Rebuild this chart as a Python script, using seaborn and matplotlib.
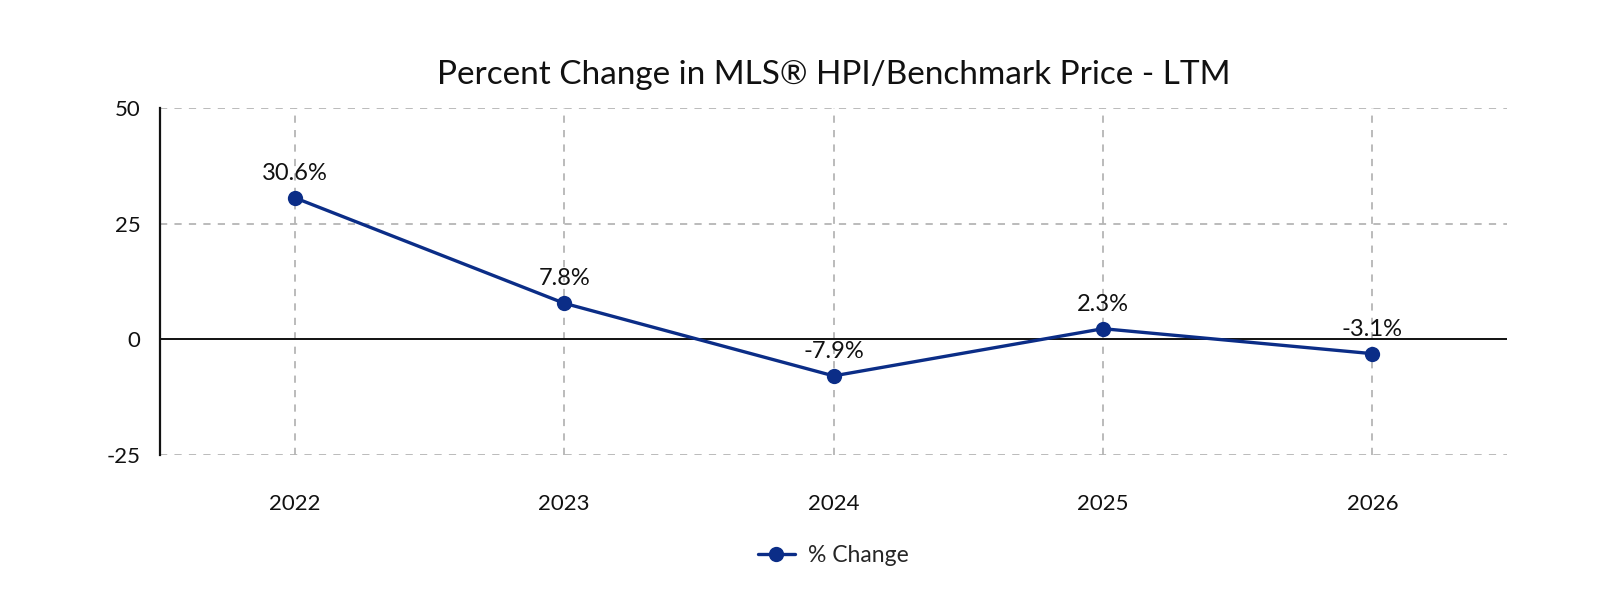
import pandas as pd
import numpy as np
import matplotlib.pyplot as plt
import seaborn as sns

years = ["2022", "2023", "2024", "2025", "2026"]
pct_change = [30.6, 7.8, -7.9, 2.3, -3.1]
y_ticks = [-25, 0, 25, 50]

navy = "#0b2d87"

sns.set_style("white")
plt.rcParams['font.family'] = ['Lato', 'DejaVu Sans']
plt.rcParams['axes.unicode_minus'] = False

df = pd.DataFrame({"year": years, "pct": pct_change})
df["pos"] = np.arange(len(years))

fig = plt.figure(figsize=(16, 6.07), dpi=100)
ax = fig.add_axes([0.1, 0.2504, 0.842, 0.5717])

sns.lineplot(data=df, x="pos", y="pct", ax=ax, color=navy, linewidth=2.4,
             marker="o", markersize=11, markeredgewidth=0, label="% Change", zorder=5)

# labels above points
for i, v in enumerate(pct_change):
    ax.annotate(f"{v}%", (i, v), xytext=(0, 10), textcoords="offset points",
                ha="center", va="bottom", fontsize=17, color="#111111")

ax.set_xlim(-0.5, len(years) - 0.5)
ax.set_ylim(-25, 50)
ax.set_xticks(df["pos"])
ax.set_xticklabels(years)
ax.set_yticks(y_ticks)
ax.tick_params(axis="both", length=0, labelsize=16, colors="#111111")
ax.tick_params(axis="x", pad=28)
ax.tick_params(axis="y", pad=14)
ax.set_xlabel("")
ax.set_ylabel("")

# grid
for t in [-25, 25, 50]:
    ax.axhline(t, color="#b5b5b5", linestyle=(0, (4, 4)), linewidth=1.3, zorder=1)
for i in df["pos"]:
    ax.axvline(i, color="#b5b5b5", linestyle=(0, (4, 4)), linewidth=1.3, zorder=1)
ax.axhline(0, color="#111111", linewidth=1.4, zorder=2)

for s in ["top", "right", "bottom"]:
    ax.spines[s].set_visible(False)
ax.spines["left"].set_color("#111111")
ax.spines["left"].set_linewidth(1.6)

ax.set_title("Percent Change in MLS® HPI/Benchmark Price - LTM", fontsize=24,
             color="#111111", pad=17)

leg = ax.legend(loc="upper center", bbox_to_anchor=(0.5, -0.2), frameon=False,
                fontsize=16.5, handlelength=1.6, handletextpad=0.6)

fig.savefig("out.png", dpi=100)
